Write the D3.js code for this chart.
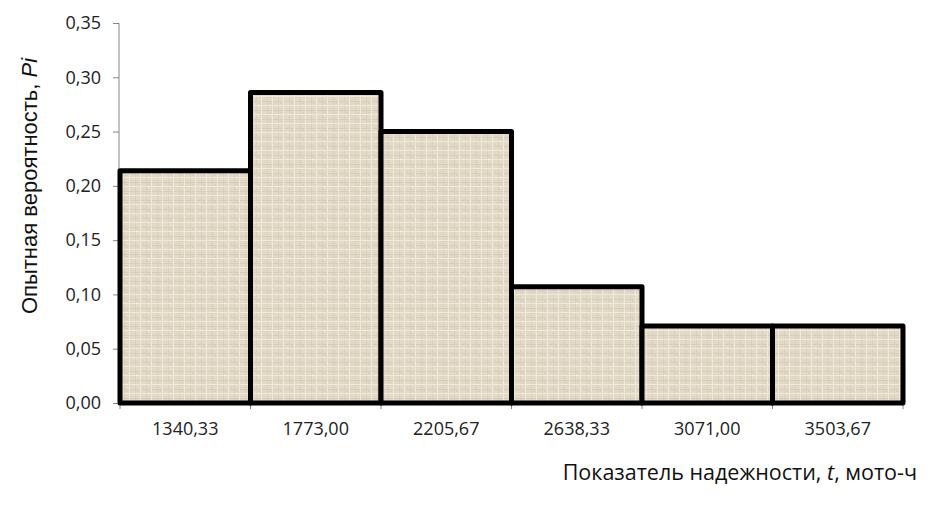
<!DOCTYPE html>
<html><head><meta charset="utf-8">
<script src="https://cdn.jsdelivr.net/npm/d3@7/dist/d3.min.js"></script>
<style>body{margin:0;background:#fff}svg{display:block}</style>
</head><body><svg id="c" width="927" height="505"></svg>
<script>
const categories = ["1340,33","1773,00","2205,67","2638,33","3071,00","3503,67"];
const values = [0.214, 0.286, 0.250, 0.107, 0.071, 0.071];
const yTicks = [0,0.05,0.10,0.15,0.20,0.25,0.30,0.35];

const svg = d3.select("#c");
const font = "'Open Sans', sans-serif";
const m = {l:120, r:903, t:23, b:403};

const defs = svg.append("defs");
const pat = defs.append("pattern").attr("id","linen").attr("patternUnits","userSpaceOnUse")
  .attr("width",11).attr("height",9);
pat.append("rect").attr("width",11).attr("height",9).attr("fill","#e2d9c7");
pat.append("rect").attr("x",0).attr("y",2).attr("width",11).attr("height",1).attr("fill","#d4cab6").attr("opacity",0.7);
pat.append("rect").attr("x",3).attr("y",0).attr("width",1).attr("height",9).attr("fill","#d6ccb9").attr("opacity",0.7);
pat.append("rect").attr("x",0).attr("y",6).attr("width",11).attr("height",1).attr("fill","#efe9dd");
pat.append("rect").attr("x",8).attr("y",0).attr("width",1).attr("height",9).attr("fill","#eee8db");
pat.append("rect").attr("x",5).attr("y",4).attr("width",2).attr("height",1).attr("fill","#cfc4ae").attr("opacity",0.6);

const x = d3.scaleBand().domain(categories).range([m.l, m.r]).padding(0);
const y = d3.scaleLinear().domain([0,0.35]).range([m.b, m.t]);

// axes
const yAxis = d3.axisLeft(y).tickValues(yTicks).tickSize(6).tickPadding(12)
  .tickFormat(d => d3.format(".2f")(d).replace(".", ","));
const gy = svg.append("g").attr("transform",`translate(${m.l-1},0)`).call(yAxis);
gy.selectAll(".domain").attr("stroke","#868686").attr("d",`M0,${m.b}V${m.t}`);
gy.selectAll(".tick line").attr("stroke","#868686");
gy.selectAll(".tick text").attr("font-family",font).attr("font-size",18).attr("fill","#222");

const xAxis = d3.axisBottom(x).tickSize(0).tickPadding(19);
const gx = svg.append("g").attr("transform",`translate(0,${m.b})`).call(xAxis);
gx.select(".domain").attr("stroke","#868686").attr("d",`M${m.l-1},0H${m.r}`);
gx.selectAll(".tick text").attr("font-family",font).attr("font-size",18).attr("fill","#222");
const bounds = categories.map(c => x(c)).concat([x(categories[categories.length-1]) + x.bandwidth()]);
gx.selectAll(".bt").data(bounds).enter().append("line")
  .attr("x1",d=>d).attr("x2",d=>d).attr("y1",0).attr("y2",6).attr("stroke","#868686");

// bars
svg.append("g").selectAll("rect").data(values).enter().append("rect")
  .attr("x",(d,i)=>x(categories[i]))
  .attr("width",x.bandwidth())
  .attr("y",d=>y(d))
  .attr("height",d=>y(0)-y(d))
  .attr("fill","url(#linen)")
  .attr("stroke","#000").attr("stroke-width",5).attr("stroke-linejoin","round");

// titles
const yt = svg.append("text").attr("transform","translate(37,186) rotate(-90)")
  .attr("text-anchor","middle").attr("font-family","'Liberation Sans', Arial, sans-serif").attr("font-size",22).attr("fill","#111");
yt.append("tspan").text("Опытная вероятность, ");
yt.append("tspan").attr("font-style","italic").text("Pi");

const xt = svg.append("text").attr("x",917).attr("y",480)
  .attr("text-anchor","end").attr("font-family",font).attr("font-size",21.5).attr("fill","#111");
xt.append("tspan").text("Показатель надежности, ");
xt.append("tspan").attr("font-style","italic").text("t");
xt.append("tspan").text(", мото-ч");
</script></body></html>
